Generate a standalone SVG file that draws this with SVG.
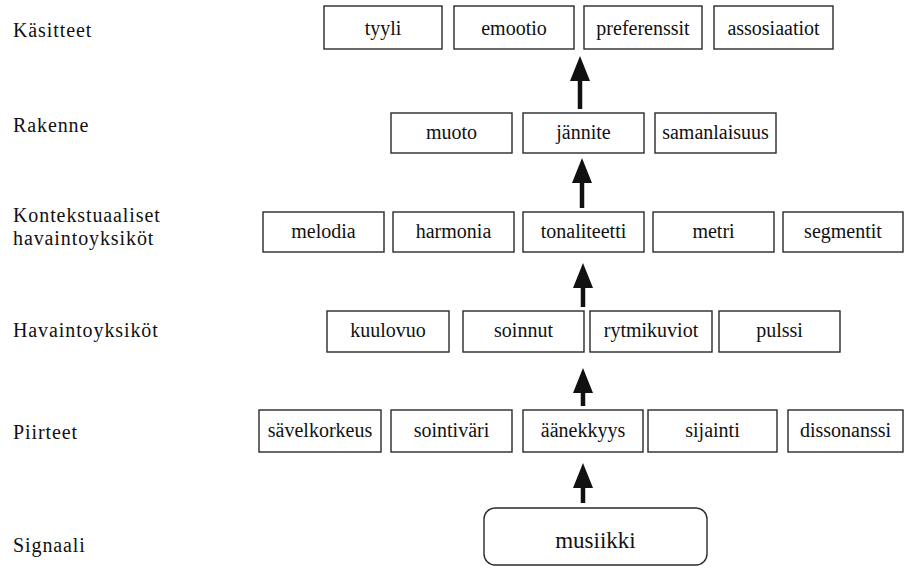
<svg xmlns="http://www.w3.org/2000/svg" width="905" height="574" viewBox="0 0 905 574">
<style>
  .box { fill: #fff; stroke: #2a2a2a; stroke-width: 1.4; }
  .t { font-family: "Liberation Serif", "Times New Roman", serif; font-size: 20px; fill: #111; text-anchor: middle; }
  .lbl { font-family: "Liberation Serif", "Times New Roman", serif; font-size: 20px; letter-spacing: 0.9px; fill: #111; }
  .shaft { stroke: #111; stroke-width: 4.5; fill: none; }
  .head { fill: #111; }
</style>
<rect width="905" height="574" fill="#fff"/>
<g id="labels">
  <text class="lbl" x="13" y="37">Käsitteet</text>
  <text class="lbl" x="13" y="132">Rakenne</text>
  <text class="lbl" x="13" y="222">Kontekstuaaliset</text>
  <text class="lbl" x="13" y="245">havaintoyksiköt</text>
  <text class="lbl" x="13" y="337">Havaintoyksiköt</text>
  <text class="lbl" x="13" y="439">Piirteet</text>
  <text class="lbl" x="13" y="552">Signaali</text>
</g>
<g id="n-tyyli"><rect class="box" x="324" y="6" width="118" height="43"/><text class="t" x="383" y="35">tyyli</text></g>
<g id="n-emootio"><rect class="box" x="454" y="6" width="120" height="43"/><text class="t" x="514" y="35">emootio</text></g>
<g id="n-preferenssit"><rect class="box" x="584" y="6" width="118" height="43"/><text class="t" x="643" y="35">preferenssit</text></g>
<g id="n-assosiaatiot"><rect class="box" x="714" y="6" width="119" height="43"/><text class="t" x="773.5" y="35">assosiaatiot</text></g>

<g id="n-muoto"><rect class="box" x="391" y="113" width="121" height="40"/><text class="t" x="451.5" y="139">muoto</text></g>
<g id="n-jannite"><rect class="box" x="523" y="113" width="121" height="40"/><text class="t" x="583.5" y="139">jännite</text></g>
<g id="n-samanlaisuus"><rect class="box" x="655" y="113" width="121" height="40"/><text class="t" x="715.5" y="139">samanlaisuus</text></g>

<g id="n-melodia"><rect class="box" x="263" y="212" width="121" height="40"/><text class="t" x="323.5" y="238">melodia</text></g>
<g id="n-harmonia"><rect class="box" x="393" y="212" width="121" height="40"/><text class="t" x="453.5" y="238">harmonia</text></g>
<g id="n-tonaliteetti"><rect class="box" x="523" y="212" width="121" height="40"/><text class="t" x="583.5" y="238">tonaliteetti</text></g>
<g id="n-metri"><rect class="box" x="653" y="212" width="121" height="40"/><text class="t" x="713.5" y="238">metri</text></g>
<g id="n-segmentit"><rect class="box" x="783" y="212" width="120" height="40"/><text class="t" x="843" y="238">segmentit</text></g>

<g id="n-kuulovuo"><rect class="box" x="327" y="311" width="122" height="41"/><text class="t" x="388" y="337">kuulovuo</text></g>
<g id="n-soinnut"><rect class="box" x="463" y="311" width="121" height="41"/><text class="t" x="523.5" y="337">soinnut</text></g>
<g id="n-rytmikuviot"><rect class="box" x="590" y="311" width="122" height="41"/><text class="t" x="651" y="337">rytmikuviot</text></g>
<g id="n-pulssi"><rect class="box" x="719" y="311" width="121" height="41"/><text class="t" x="779.5" y="337">pulssi</text></g>

<g id="n-savelkorkeus"><rect class="box" x="259" y="410" width="122" height="42"/><text class="t" x="320" y="437">sävelkorkeus</text></g>
<g id="n-sointivari"><rect class="box" x="391" y="410" width="121" height="42"/><text class="t" x="451.5" y="437">sointiväri</text></g>
<g id="n-aanekkyys"><rect class="box" x="523" y="410" width="120" height="42"/><text class="t" x="583" y="437">äänekkyys</text></g>
<g id="n-sijainti"><rect class="box" x="648" y="410" width="129" height="42"/><text class="t" x="712.5" y="437">sijainti</text></g>
<g id="n-dissonanssi"><rect class="box" x="788" y="410" width="115" height="42"/><text class="t" x="845.5" y="437">dissonanssi</text></g>

<g id="n-musiikki"><rect class="box" x="484" y="508" width="223" height="57" rx="11" ry="11"/><text class="t" style="font-size:23px" x="595.5" y="548">musiikki</text></g>

<g id="connectors">
  <line class="shaft" x1="580" y1="78" x2="580" y2="109"/>
  <polygon class="head" points="580,56 570,81 590,81"/>
  <line class="shaft" x1="582" y1="180" x2="582" y2="208"/>
  <polygon class="head" points="582,158 572,183 592,183"/>
  <line class="shaft" x1="583" y1="285" x2="583" y2="307"/>
  <polygon class="head" points="583,263 573,288 593,288"/>
  <line class="shaft" x1="583" y1="390" x2="583" y2="406"/>
  <polygon class="head" points="583,368 573,393 593,393"/>
  <line class="shaft" x1="583" y1="485" x2="583" y2="503"/>
  <polygon class="head" points="583,463 573,488 593,488"/>
</g>
</svg>
